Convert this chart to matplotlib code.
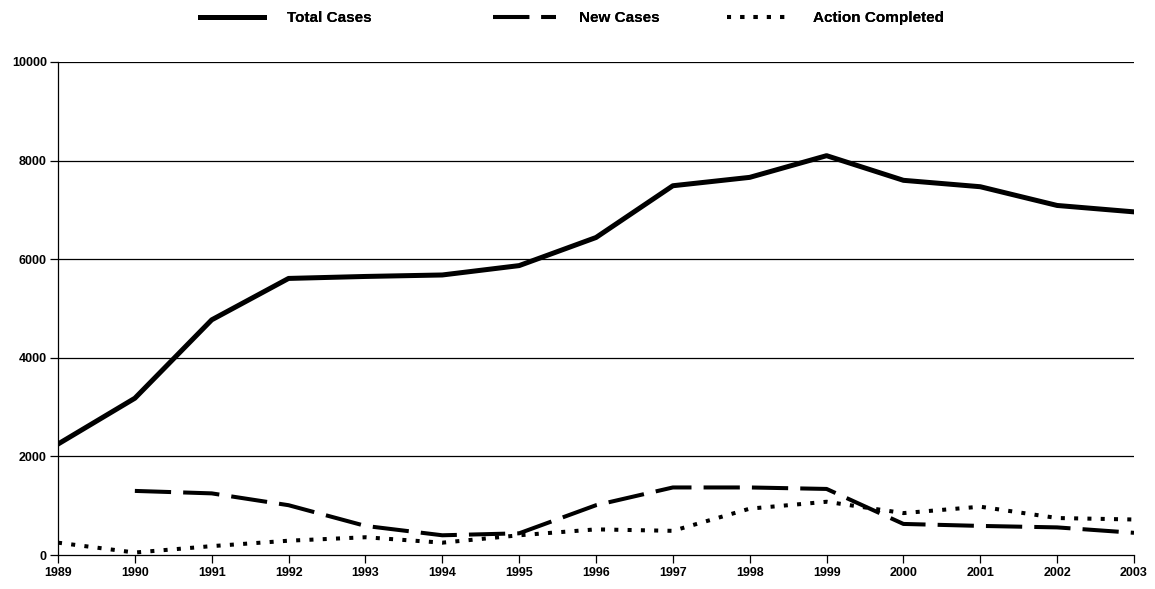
import matplotlib
matplotlib.use("Agg")
import matplotlib.pyplot as plt

years = list(range(1989, 2004))
total_cases = [2250, 3180, 4770, 5610, 5650, 5680, 5870, 6440, 7490, 7660, 8100, 7600, 7470, 7090, 6960]
new_years = list(range(1990, 2004))
new_cases = [1300, 1250, 1010, 590, 400, 440, 1010, 1370, 1370, 1340, 630, 590, 560, 450]
action_completed = [250, 50, 180, 290, 360, 250, 400, 520, 490, 940, 1080, 850, 980, 750, 720]
y_ticks = [0, 2000, 4000, 6000, 8000, 10000]

plt.rcParams['font.family'] = ['Liberation Sans', 'DejaVu Sans']

W, H = 1155, 589
fig = plt.figure(figsize=(W / 100, H / 100), dpi=100)
ax = fig.add_axes([58 / W, 1 - 555 / H, (1134 - 58) / W, (555 - 62) / H])

l1, = ax.plot(years, total_cases, color='black', lw=3.6, solid_joinstyle='round', label='Total Cases')
l2, = ax.plot(new_years, new_cases, color='black', lw=2.9, linestyle=(0, (9, 3)), label='New Cases')
l3, = ax.plot(years, action_completed, color='black', lw=2.9, linestyle=(0, (1, 2.3)), label='Action Completed')

ax.set_xlim(1989, 2003)
ax.set_ylim(0, 10000)
ax.set_xticks(years)
ax.set_xticklabels([str(y) for y in years], fontsize=9, fontweight='bold')
ax.set_yticks(y_ticks)
ax.set_yticklabels([str(v) for v in y_ticks], fontsize=9, fontweight='bold')
ax.tick_params(axis='both', direction='out', length=6, width=0.9, color='black')
ax.tick_params(axis='x', pad=3)
ax.tick_params(axis='y', pad=2)

for v in y_ticks[1:]:
    ax.axhline(v, color='black', lw=0.9, zorder=0)

ax.spines['top'].set_visible(False)
ax.spines['right'].set_visible(False)
ax.spines['left'].set_linewidth(0.9)
ax.spines['bottom'].set_linewidth(0.9)

fs = 11
px_per_em = fs * 100 / 72
legend_specs = [(l1, 200, 64, 23), (l2, 493, 63, 23), (l3, 727, 58, 28)]
for handle, x0, hlen, pad in legend_specs:
    lg = fig.legend(handles=[handle], loc='center left', bbox_to_anchor=(x0 / W, 1 - 18 / H),
                    frameon=False, handlelength=hlen / px_per_em, handletextpad=pad / px_per_em,
                    borderpad=0, borderaxespad=0, prop={'size': fs, 'weight': 'bold'})
    fig.add_artist(lg)

fig.savefig('out.png', dpi=100)
